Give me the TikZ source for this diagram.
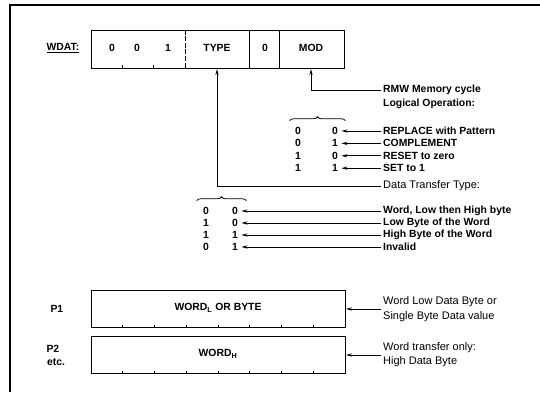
\documentclass[tikz,border=0pt]{standalone}
\usepackage{fontspec}
\setmainfont{Liberation Sans}
\usetikzlibrary{arrows.meta,decorations.pathreplacing}

\begin{document}
\begin{tikzpicture}[x=1pt,y=-1pt,>={Stealth[length=6pt,width=3.2pt]},
  font=\fontsize{10.4}{12}\selectfont\bfseries,line cap=butt,
  box/.style={draw,line width=1pt,inner sep=0pt,anchor=north west},
  lbl/.style={anchor=west,inner sep=2pt},
  lite/.style={lbl,font=\fontsize{11}{13}\selectfont},
  brc/.style={decorate,line width=0.8pt,decoration={brace,amplitude=4pt}},
  conn/.style={->,line width=0.8pt}]
\useasboundingbox (0,0) rectangle (540,396);
% frame
\draw[line width=1.2pt] (540,5) -- (10,5) -- (10,392);
% WDAT register
\node (wd) at (63,48) {\underline{WDAT:}};
\node[box,minimum width=253pt,minimum height=38pt] (wdat) at (91,30) {};
\draw[line width=0.6pt,dash pattern=on 5pt off 1.5pt] (185,30) -- (185,68);
\draw[line width=1pt] (249,30) -- (249,68);
\draw[line width=1pt] (279,30) -- (279,68);
\draw[line width=0.8pt] (122,68) -- (122,65);
\draw[line width=0.8pt] (153,68) -- (153,65);
\node (bita) at (112,48) {0};
\node (bitb) at (137,48) {0};
\node (bitc) at (168,48) {1};
\node (typ) at (217,48) {TYPE};
\node (zro) at (265,48) {0};
\node (mod) at (311,48) {MOD};
% MOD field
\node[lbl] (rmwa) at (381,90) {RMW Memory cycle};
\node[lbl] (rmwb) at (381,104) {Logical Operation:};
\draw[conn] (rmwa.west) -| (mod |- wdat.south);
\foreach \a/\b/\t [count=\k] in {0/0/REPLACE with Pattern,0/1/COMPLEMENT,1/0/RESET to zero,1/1/SET to 1}{
  \node (ma\k) at (298,{118.6+12.4*\k}) {\a};
  \node (mb\k) at (335,{118.6+12.4*\k}) {\b};
  \node[lbl] (mt\k) at (381,{118.6+12.4*\k}) {\t};
  \draw[conn] (mt\k.west) -- (mb\k.east);
}
\draw[brc] ([xshift=-2pt,yshift=3pt]ma1.north west) -- ([xshift=4pt,yshift=3pt]mb1.north east);
% TYPE field
\node[lite] (dtt) at (381,186) {Data Transfer Type:};
\draw[conn] (dtt.west) -| (typ |- wdat.south);
\foreach \a/\b/\t [count=\k] in {0/0/{Word, Low then High byte},1/0/Low Byte of the Word,1/1/High Byte of the Word,0/1/Invalid}{
  \node (ta\k) at (206,{199+12*\k}) {\a};
  \node (tb\k) at (235,{199+12*\k}) {\b};
  \node[lbl] (tt\k) at (381,{199+12*\k}) {\t};
  \draw[conn] (tt\k.west) -- (tb\k.east);
}
\draw[brc] ([xshift=-3pt,yshift=3pt]ta1.north west) -- ([xshift=5pt,yshift=3pt]tb1.north east);
% data bytes
\node[anchor=west] (pa) at (47,309) {P1};
\node[anchor=west] (pb) at (43,349) {P2};
\node[anchor=west,inner sep=2pt] (etc) at (45,362) {etc.};
\node[box,minimum width=254pt,minimum height=37pt] (pone) at (91,290) {};
\node (wl) at (218,308) {WORD\textsubscript{L} OR BYTE};
\node[box,minimum width=254pt,minimum height=37pt] (ptwo) at (91,336) {};
\node (wh) at (218,354) {WORD\textsubscript{H}};
\foreach \k in {1,...,7}{
  \draw[line width=0.8pt] ([xshift={\k*31.75pt}]pone.south west) -- ++(0,-3);
  \draw[line width=0.8pt] ([xshift={\k*31.75pt}]ptwo.south west) -- ++(0,-3);
}
\node[lite] (pda) at (381,302) {Word Low Data Byte or};
\node[lite] (pdb) at (381,317) {Single Byte Data value};
\draw[conn] (pda.west |- pone.east) -- (pone.east);
\node[lite] (pdc) at (381,348) {Word transfer only:};
\node[lite] (pdd) at (381,362) {High Data Byte};
\draw[conn] (pdc.west |- ptwo.east) -- (ptwo.east);
\end{tikzpicture}
\end{document}
